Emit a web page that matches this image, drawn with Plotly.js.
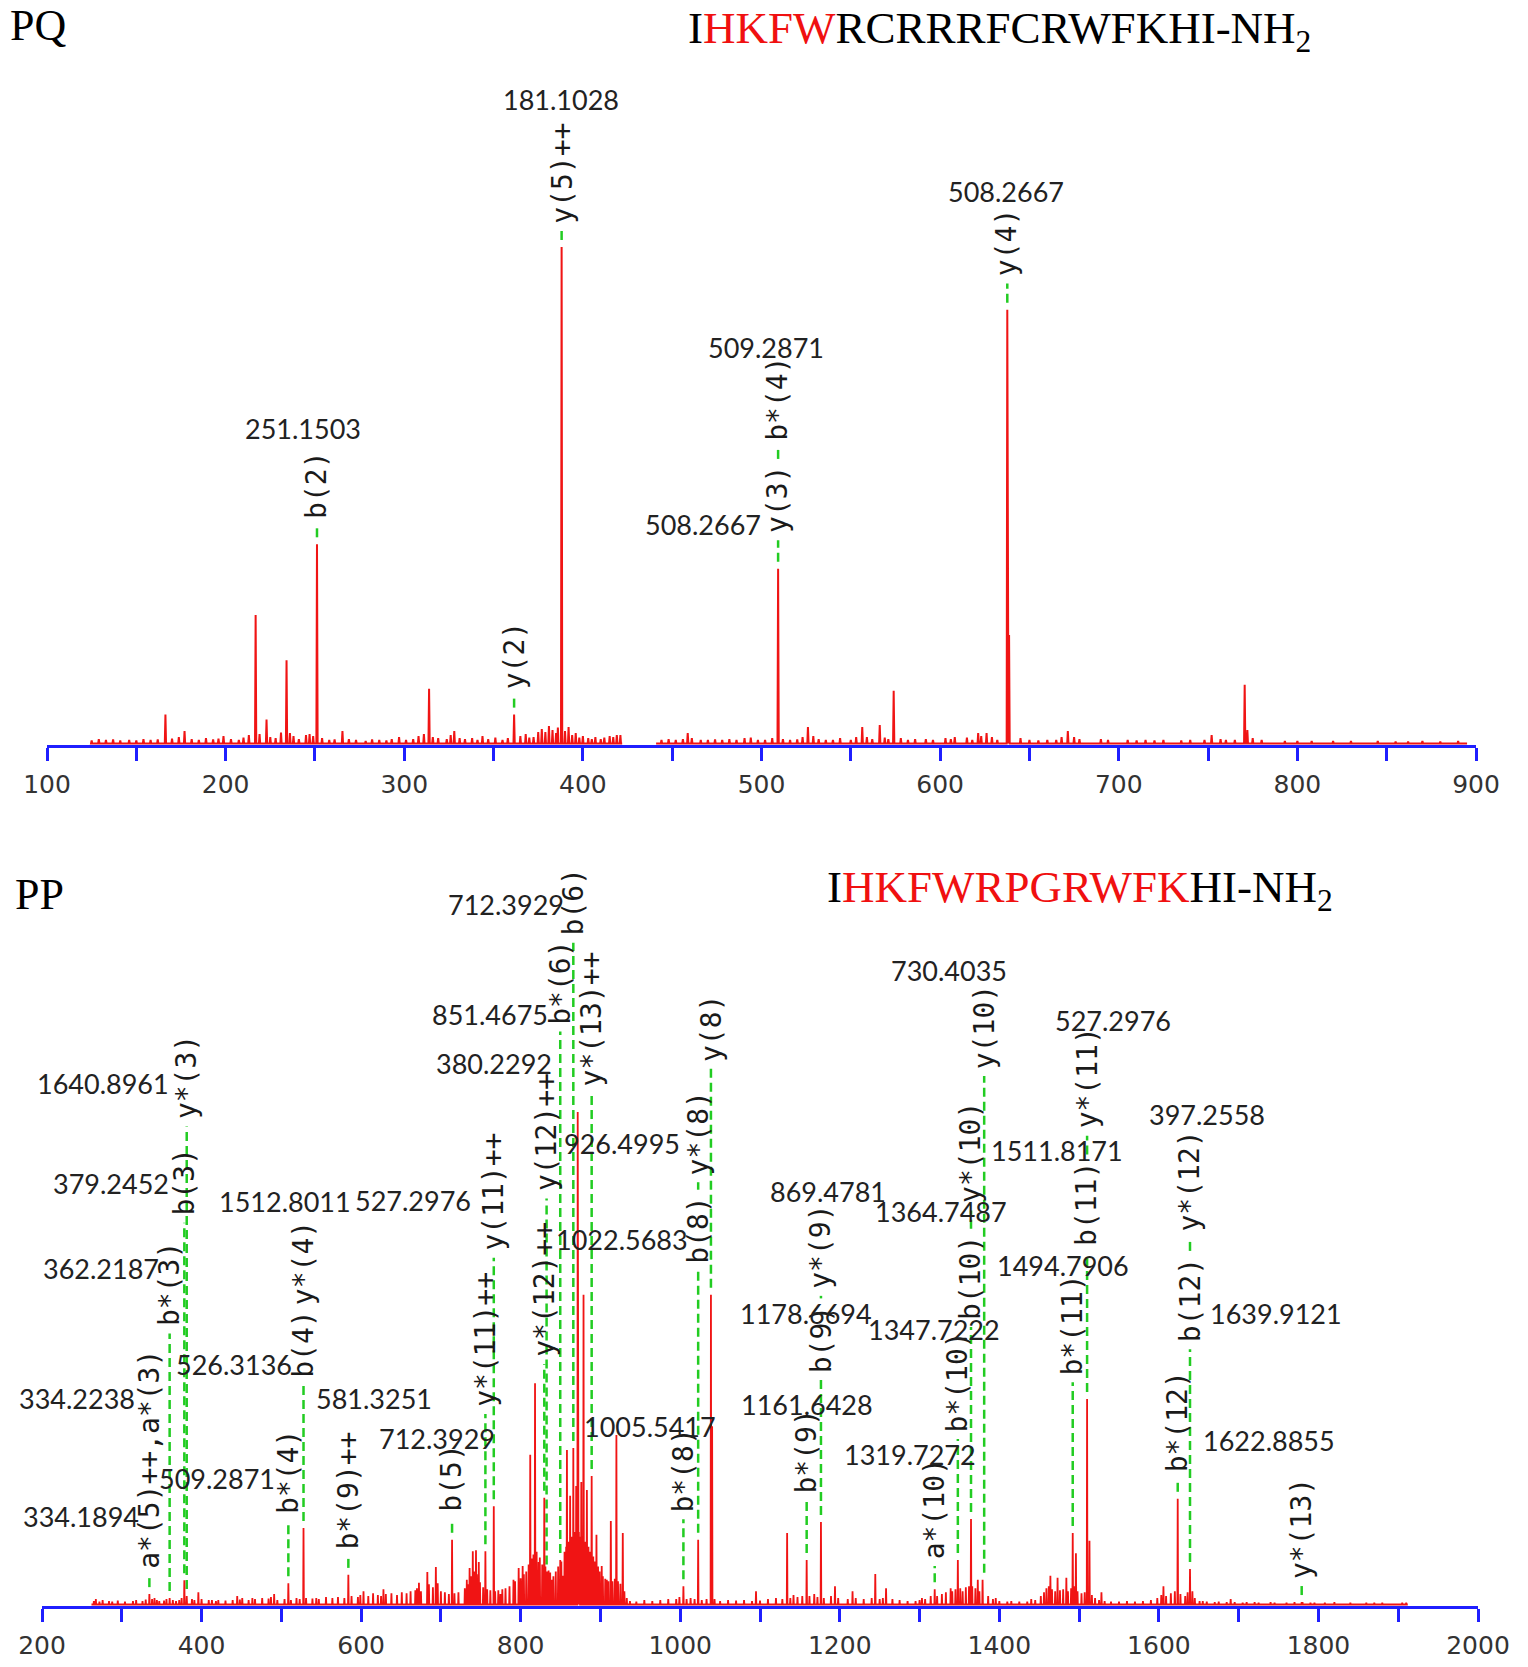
<!DOCTYPE html>
<html><head><meta charset="utf-8">
<script src="https://cdn.plot.ly/plotly-3.0.1.min.js"></script>
<style>html,body{margin:0;padding:0;background:#fff}#chart{width:1528px;height:1667px}</style>
</head><body><div id="chart"></div>
<script>
// ================= DATA =================
// --- PQ spectrum (m/z, relative intensity %) ---
const pqPeakMz  = [166.3,173.8,177,198.8,207.4,216.8,222.9,234.1,251.15,265.4,278.4,297.1,311,313.9,323.8,328,343.8,361.5,372.4,388.1,458.7,490.5,509.3,526,556.4,566.2,574,608.2,621.3,626,637.6,638.6,671.5,752,770.5,772];
const pqPeakInt = [6.1,1.6,2.8,1.8,1.0,26.1,5.1,17.0,40.3,2.8,0.8,1.6,2.2,11.3,1.2,2.8,1.8,6.1,1.6,100,2.4,1.4,35.4,3.6,3.6,4.0,10.9,1.6,2.4,2.4,87.4,22.1,2.8,2.0,12.1,3.0];
const pqNoiseMz  = [125,129,133,137,141,146,150,154,158,162,170,181,185,189,193,196,203,210,213,219,225,228,231,236,238,241,245,247,249,254,258,261,269,273,282,286,290,293,301,305,308,316,319,326,331,334,338,341,347,351,355,358,365,368,370,375,377,379,381,383,385,386,390,392,394,396,398,400,403,405,407,410,412,415,417,419,421,
  444,448,452,456,461,466,470,474,478,482,486,494,498,502,506,512,516,520,523,529,532,536,540,544,550,553,559,562,569,571,578,582,586,592,596,603,606,615,618,623,629,632,645,650,655,660,665,668,675,678,690,694,705,710,715,720,725,735,740,748,757,760,765,775,780,793,800,808,820,830,845,855,862,870,880,890];
const pqNoiseInt = [0.9,1.2,1.0,1.1,0.9,1.0,0.9,1.2,1.0,1.1,1.3,1.2,1.0,1.4,1.1,1.3,1.2,1.5,2.0,2.2,1.6,1.4,2.5,2.4,1.8,1.2,2.0,2.2,1.8,1.4,1.0,1.1,1.2,1.0,1.1,1.0,0.9,1.2,1.0,1.2,1.8,1.6,1.4,2.0,1.4,1.2,1.4,1.0,1.2,1.5,1.0,1.4,1.8,2.2,1.5,2.6,3.2,2.6,3.8,3.0,2.4,3.5,2.8,3.6,2.0,2.4,1.5,1.8,1.4,1.2,1.6,1.2,1.5,1.8,1.6,2.0,2.0,
  1.0,1.2,1.0,1.2,1.4,1.0,1.0,1.1,1.0,1.2,1.0,1.5,1.0,1.0,1.4,1.2,1.0,1.1,1.6,1.8,1.2,1.0,1.0,1.4,1.0,1.6,1.6,1.2,1.5,1.2,1.4,1.0,1.2,1.2,1.0,1.4,1.2,1.5,1.0,1.8,1.6,1.0,1.4,1.0,0.9,1.0,1.0,1.6,1.6,1.2,1.2,1.0,1.0,0.9,1.0,0.9,1.0,0.9,1.0,1.0,1.2,1.0,1.0,1.4,1.0,0.8,0.8,0.8,0.8,0.8,0.8,0.7,0.7,0.8,0.7,0.8];
const pqRanges = [[125,422],[441,895]];
const pqIonMz   = [251.15, 361.5, 388.1, 509.3, 509.3, 637.6];
const pqIonText = ['b(2)','y(2)','y(5)++','y(3)','b*(4)','y(4)'];
const pqNumText = ['251.1503','181.1028','509.2871','508.2667','508.2667'];
const pqTickVals  = [100,200,300,400,500,600,700,800,900];
const pqTickText  = ['100','200','300','400','500','600','700','800','900'];
const pqMinorVals = [150,250,350,450,550,650,750,850];

// --- PP spectrum ---
const ppPeakMz  = [267.5,334.6,341,360,378.4,381.4,396,413,444.7,463.7,491,508.8,527.8,543.8,584,603,628,672.5,683,693.7,714,732.5,736,740,744,747.5,755.8,766.3,774.6,791,797.5,802.5,812,818,822.5,829.6,833,839,849.6,853,858,862,866,869.6,871.5,876,878.8,883,889,895,901.6,908,913,920,928,933,1004,1022.5,1038.5,1040,1095,1134,1158.5,1176.4,1194,1216,1244.5,1258,1303,1319,1339,1348,1364.5,1373,1379,1395.5,1440,1464,1473,1484,1492,1496,1510,1513,1528,1605.7,1623.6,1639,1642,1655,1690,1779];
const ppPeakInt = [1.4,2.4,1.6,1.6,5.2,2.0,2.8,1.2,2.0,1.6,2.4,4.6,15.8,1.6,6.3,3.0,3.4,4.7,6.9,7.9,13.4,5.3,7.7,11.1,11.3,8.9,11.1,20.2,2.4,5.3,7.7,8.1,30.6,45.1,8.9,21.9,7.0,5.3,9.3,6.1,31.6,22.3,32.0,24.3,100,25.1,63.0,23.5,26.3,14.4,8.1,5.3,17.2,34.6,14.8,1.6,4.0,13.4,63.0,36.4,3.0,14.8,9.3,17.0,4.0,3.0,6.5,3.6,1.6,3.4,3.6,9.3,17.6,5.3,5.3,1.6,1.4,6.1,5.7,5.7,14.8,10.7,41.9,13.2,2.8,4.0,21.7,7.5,3.0,1.0,1.4,0.8];
const ppNoiseMz  = [265,272,276,284,288,295,304,314,318,326,330,338,344,347,353,356,364,368,372,375,388,391,400,409,418,421,430,439,448,451,459,467,476,484,487,495,504,512,519,523,531,539,547,556,564,571,579,588,596,599,609,615,621,625,631,638,645,651,657,662,668,670,675,685,690,696,700,705,710,717,722,730,734,738,742,745,749,753,758,762,768,772,777,781,786,793,800,804,807,810,814,816,820,824,827,831,835,837,841,844,847,851,855,857,860,864,868,870,873,874,877,880,882,885,887,891,893,897,899,903,906,910,915,918,922,925,930,937,945,955,965,975,985,995,999,1008,1013,1018,1027,1033,1043,1050,1060,1070,1080,1090,1100,1110,1120,1128,1138,1142,1147,1153,1162,1168,1172,1180,1189,1198,1210,1220,1230,1240,1250,1254,1266,1275,1285,1295,1300,1307,1314,1322,1328,1333,1341,1345,1351,1354,1358,1362,1366,1370,1375,1386,1392,1400,1410,1415,1425,1435,1445,1452,1456,1459,1462,1466,1470,1476,1480,1486,1490,1494,1498,1503,1507,1516,1520,1525,1532,1540,1550,1560,1570,1580,1590,1598,1603,1609,1615,1620,1627,1633,1636,1645,1651,1660,1670,1675,1685,1695,1705,1710,1720,1725,1740,1745,1760,1770,1780,1790,1795,1808,1820,1840,1860,1870,1880,1905,1910];
const ppNoiseInt = [1.0,0.9,1.2,1.0,0.9,1.1,0.9,1.0,1.2,1.0,1.3,1.4,1.2,1.0,1.1,1.4,1.2,1.0,1.2,1.6,1.4,1.2,1.4,1.2,1.0,1.2,1.1,1.2,1.3,1.6,1.2,1.4,1.6,1.5,1.8,1.2,1.4,1.2,1.6,1.4,1.6,1.5,1.4,1.8,1.6,1.8,1.6,2.0,1.8,2.2,2.0,2.6,2.2,2.0,2.4,2.6,2.2,2.8,2.6,3.0,3.2,3.6,3.0,4.4,3.8,4.6,3.0,2.8,2.4,2.6,2.8,3.6,4.4,6.0,7.0,6.4,4.8,3.8,3.4,3.2,3.0,3.2,3.4,3.6,4.0,5.0,5.6,6.4,7.0,8.4,9.6,10.4,11.0,9.8,8.4,8.0,7.2,6.8,6.0,7.0,8.0,9.0,11.0,12.0,13.0,14.0,15.0,14.0,15.0,14.0,14.0,13.0,13.0,12.0,11.0,10.0,9.0,8.0,7.0,6.0,5.5,5.0,5.0,5.5,5.0,4.5,3.0,1.0,0.9,1.2,1.0,1.2,1.4,1.4,1.8,1.4,1.6,1.4,1.2,1.4,1.4,1.0,1.2,1.1,1.2,1.0,1.1,1.4,1.6,1.4,1.6,2.2,1.8,2.0,2.0,2.4,1.8,1.6,2.0,1.6,1.4,1.6,1.4,1.6,1.4,1.6,1.4,1.2,1.0,1.0,1.2,1.4,2.0,2.0,2.4,2.8,3.0,3.4,3.6,3.0,3.8,4.0,4.0,3.6,3.0,2.0,1.4,1.0,0.9,1.0,0.9,0.9,1.2,2.0,2.8,3.6,4.0,3.4,3.0,3.2,3.4,3.0,3.6,4.0,3.0,2.6,2.8,2.2,1.6,1.2,1.0,0.9,0.9,1.0,0.9,1.0,1.2,1.6,2.2,2.0,2.6,3.0,2.4,2.0,2.8,1.6,1.0,0.9,0.8,0.9,0.8,0.8,0.7,0.8,0.8,0.7,0.8,0.7,0.7,0.8,0.8,0.7,0.7,0.7,0.8,0.7,0.7,0.7,0.7,0.7,0.7];
const ppRanges = [[262,1912]];
const ppIonMz   = [334.6,360,378.4,381.4,508.8,527.8,527.8,584,714,755.8,766.3,829.6,832.5,849.6,866,889,1004,1022.5,1022.5,1038.5,1158.5,1176.4,1176.4,1319,1348,1364.5,1364.5,1381,1492,1510,1510,1623.6,1639,1639,1779];
const ppIonText = ['a*(5)++,a*(3)','b*(3)','b(3)','y*(3)','b*(4)','b(4)','y*(4)','b*(9)++','b(5)','y*(11)++','y(11)++','y*(12)++','y(12)++','b*(6)','b(6)','y*(13)++','b*(8)','b(8)','y*(8)','y(8)','b*(9)','b(9)','y*(9)','a*(10)','b*(10)','b(10)','y*(10)','y(10)','b*(11)','b(11)','y*(11)','b*(12)','b(12)','y*(12)','y*(13)'];
const ppNumText = ['1640.8961','379.2452','362.2187','334.2238','334.1894','526.3136','509.2871','1512.8011','527.2976','581.3251','712.3929','380.2292','851.4675','712.3929','926.4995','1022.5683','1005.5417','869.4781','1178.6694','1161.6428','730.4035','1364.7487','1347.7222','1319.7272','1511.8171','1494.7906','527.2976','397.2558','1639.9121','1622.8855'];
const ppTickVals  = [200,400,600,800,1000,1200,1400,1600,1800,2000];
const ppTickText  = ['200','400','600','800','1000','1200','1400','1600','1800','2000'];
const ppMinorVals = [300,500,700,900,1100,1300,1500,1700,1900];

// ================= LAYOUT / PLACEMENT =================
const W = 1528, H = 1667;
const PXU_TOP = 4.98, PXU_BOT = 4.94;   // pixels per intensity unit
const TOP_BASE = 745, BOT_BASE = 1606, BOT_TOP = 800;
const ION_FONT = 28, CHAR_W = 0.602 * ION_FONT;
// label placement (bottom of each rotated ion label, in intensity units)
const pqIonBottom = [45.3, 10.9, 104.5, 42.3, 60.9, 93.9];
const pqNumPos = [[243.3,63.6,'center'],[387.8,129.6,'center'],[502.6,79.8,'center'],[500.2,44.3,'right'],[636.7,111.2,'center']];
const ppIonBottom = [7.3,56.4,78.8,98.3,18.5,46.0,60.6,11.3,18.8,40.1,71.7,50.2,83.7,117.5,135.5,105,18.8,69,87,110,22.5,47,64,9.3,35,57.7,81.3,108.5,46.5,72.7,96.4,26.9,53.2,75.5,5.3];
const ppNumPos = [[361,105.7,'right'],[361,85.5,'right'],[347.5,68.3,'right'],[318,42.1,'right'],[322.5,18.1,'right'],[515,48.9,'right'],[493,25.9,'right'],[505,81.8,'center'],[739,82,'right'],[616,42.1,'center'],[695,34.0,'center'],[840,109.8,'right'],[835,119.8,'right'],[855,142,'right'],[926.5,93.7,'center'],[926.6,74.1,'center'],[962,36.3,'center'],[1185,83.9,'center'],[1157.5,59.2,'center'],[1159,40.7,'center'],[1337,128.7,'center'],[1327.5,79.8,'center'],[1317.5,55.9,'center'],[1287.5,30.6,'center'],[1388,92.3,'left'],[1396,69.0,'left'],[1542,118.6,'center'],[1660,99.4,'center'],[1663,59.3,'left'],[1654,33.6,'left']];

const BASE = 0.3, HALF = 0.35;
const RED = '#f01414', GREEN = '#22cc22', BLUE = '#1f1fff';

function profile(mzA, inA, mzB, inB, ranges, halfw) {
  const mz = mzA.concat(mzB), it = inA.concat(inB);
  const idx = mz.map((m,i)=>i).sort((a,b)=>mz[a]-mz[b]);
  const xs=[], ys=[];
  ranges.forEach(([lo,hi])=>{
    xs.push(lo); ys.push(BASE);
    idx.forEach(i=>{ if(mz[i]>=lo && mz[i]<=hi){ xs.push(mz[i]-halfw, mz[i], mz[i]+halfw); ys.push(BASE, it[i], BASE);} });
    xs.push(hi); ys.push(BASE); xs.push(null); ys.push(null);
  });
  return {xs, ys};
}
function peakAt(m, mzA, inA){
  let best=BASE, d=3;
  mzA.forEach((x,i)=>{ if(Math.abs(x-m)<d){ d=Math.abs(x-m); best=inA[i]; } });
  return best;
}
function ionLines(ionMz, ionText, ionBottom, mzA, inA, pxu){
  const groups = new Map();
  ionMz.forEach((m,i)=>{ if(!groups.has(m)) groups.set(m,[]); groups.get(m).push(i); });
  const xs=[], ys=[];
  groups.forEach((list,m)=>{
    list.sort((a,b)=>ionBottom[a]-ionBottom[b]);
    let start = peakAt(m,mzA,inA) + 7/pxu;
    list.forEach(i=>{
      const end = ionBottom[i] - 6/pxu;
      if(end > start){ xs.push(m,m,null); ys.push(start,end,null); }
      start = ionBottom[i] + (ionText[i].length*CHAR_W + 8)/pxu;
    });
  });
  return {xs, ys};
}

const pqProf = profile(pqPeakMz,pqPeakInt,pqNoiseMz,pqNoiseInt,pqRanges,HALF);
const ppProf = profile(ppPeakMz,ppPeakInt,ppNoiseMz,ppNoiseInt,ppRanges,HALF*1.2);
const pqLines = ionLines(pqIonMz,pqIonText,pqIonBottom,pqPeakMz,pqPeakInt,PXU_TOP);
const ppLines = ionLines(ppIonMz,ppIonText,ppIonBottom,ppPeakMz,ppPeakInt,PXU_BOT);

const traces = [
  {x:pqLines.xs, y:pqLines.ys, xaxis:'x', yaxis:'y', mode:'lines', line:{color:GREEN,width:2.5,dash:'9px,5px'}, hoverinfo:'skip', connectgaps:false},
  {x:pqProf.xs, y:pqProf.ys, xaxis:'x', yaxis:'y', mode:'lines', line:{color:RED,width:2}, hoverinfo:'skip', connectgaps:false},
  {x:ppLines.xs, y:ppLines.ys, xaxis:'x2', yaxis:'y2', mode:'lines', line:{color:GREEN,width:2.5,dash:'9px,5px'}, hoverinfo:'skip', connectgaps:false},
  {x:ppProf.xs, y:ppProf.ys, xaxis:'x2', yaxis:'y2', mode:'lines', line:{color:RED,width:1.8}, hoverinfo:'skip', connectgaps:false}
];

const ann = [];
const ionFont = {family:'DejaVu Sans Mono', size:ION_FONT, color:'#1a1a1a'};
const numFont = {family:'Lato', size:27, color:'#222'};
function addIons(ionMz, ionText, ionBottom, xr, yr){
  ionMz.forEach((m,i)=>ann.push({x:m, y:ionBottom[i], xref:xr, yref:yr, text:ionText[i], textangle:-90, showarrow:false, xanchor:'center', yanchor:'bottom', font:ionFont, borderpad:0}));
}
function addNums(txt, pos, xr, yr){
  txt.forEach((t,i)=>ann.push({x:pos[i][0], y:pos[i][1], xref:xr, yref:yr, text:t, showarrow:false, xanchor:pos[i][2], yanchor:'middle', font:numFont, borderpad:0}));
}
addIons(pqIonMz,pqIonText,pqIonBottom,'x','y');
addIons(ppIonMz,ppIonText,ppIonBottom,'x2','y2');
addNums(pqNumText,pqNumPos,'x','y');
addNums(ppNumText,ppNumPos,'x2','y2');

const serif = 'Liberation Serif, Times New Roman, serif';
const redSpan = s => '<span style="color:#f01010">'+s+'</span>';
ann.push({xref:'paper', yref:'paper', x:9/W, y:1, xanchor:'left', yanchor:'top', text:'PQ', showarrow:false, font:{family:serif,size:44,color:'#000'}, borderpad:0});
ann.push({xref:'paper', yref:'paper', x:686/W, y:1-31/H, xanchor:'left', yanchor:'middle', text:'I'+redSpan('HKFW')+'RCRRRFCRWFKHI-NH<sub>2</sub>', showarrow:false, font:{family:serif,size:45,color:'#000'}});
ann.push({xref:'paper', yref:'paper', x:13/W, y:1-895/H, xanchor:'left', yanchor:'middle', text:'PP', showarrow:false, font:{family:serif,size:44,color:'#000'}});
ann.push({xref:'paper', yref:'paper', x:825/W, y:1-890/H, xanchor:'left', yanchor:'middle', text:'I'+redSpan('HKFWRPGRWFK')+'HI-NH<sub>2</sub>', showarrow:false, font:{family:serif,size:45,color:'#000'}});

const minorCommon = {tickmode:'array', ticks:'outside', ticklen:13, tickwidth:3, tickcolor:BLUE, showgrid:false};
const xCommon = {showline:true, linecolor:BLUE, linewidth:3, ticks:'outside', ticklen:13, tickwidth:3, tickcolor:BLUE, showgrid:false, zeroline:false, tickmode:'array', tickfont:{family:'DejaVu Sans', size:25, color:'#333'}, ticklabelstandoff:2, fixedrange:true};
const yCommon = {visible:false, showgrid:false, zeroline:false, fixedrange:true};

const layout = {
  width:W, height:H, margin:{l:0,r:0,t:0,b:0}, paper_bgcolor:'#fff', plot_bgcolor:'rgba(0,0,0,0)', showlegend:false,
  xaxis: Object.assign({}, xCommon, {domain:[47/W,1476/W], range:[100,900], anchor:'y', tickvals:pqTickVals, ticktext:pqTickText, minor:Object.assign({}, minorCommon, {tickvals:pqMinorVals})}),
  yaxis: Object.assign({}, yCommon, {domain:[1-TOP_BASE/H,1], range:[0,TOP_BASE/PXU_TOP]}),
  xaxis2: Object.assign({}, xCommon, {domain:[42/W,1478/W], range:[200,2000], anchor:'y2', tickvals:ppTickVals, ticktext:ppTickText, minor:Object.assign({}, minorCommon, {tickvals:ppMinorVals})}),
  yaxis2: Object.assign({}, yCommon, {domain:[1-BOT_BASE/H,1-BOT_TOP/H], range:[0,(BOT_BASE-BOT_TOP)/PXU_BOT]}),
  annotations: ann
};
Plotly.newPlot('chart', traces, layout, {staticPlot:true, displayModeBar:false});
</script></body></html>
